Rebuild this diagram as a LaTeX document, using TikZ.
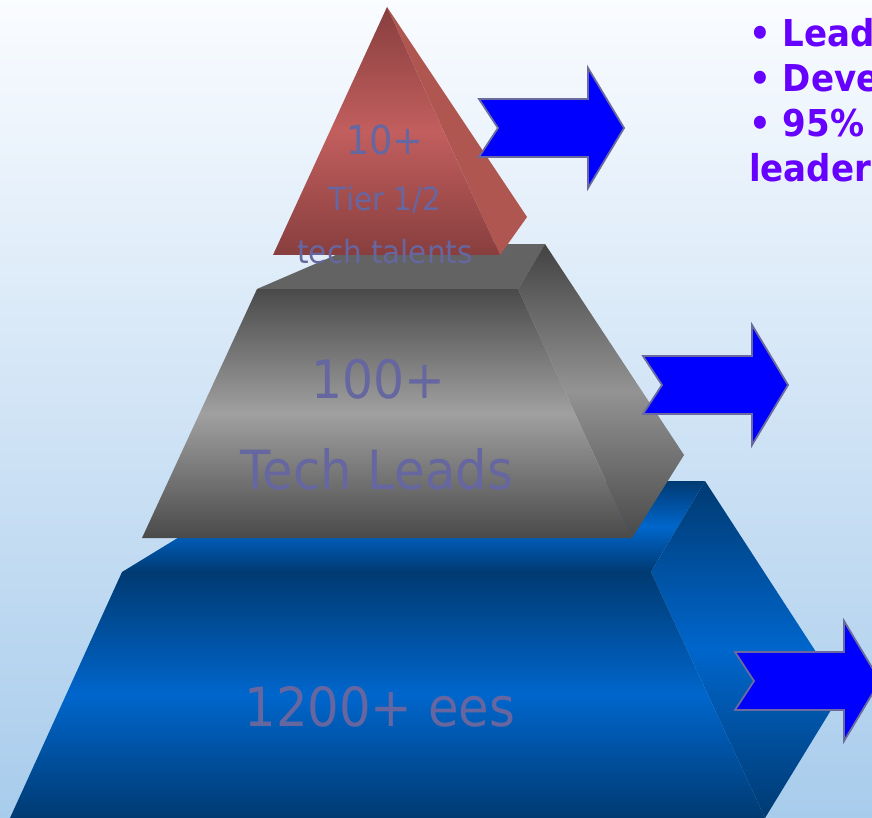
\documentclass[tikz,border=0pt]{standalone}
\usepackage{fontspec}
\setmainfont{DejaVu Sans}[FakeStretch=0.92]
\definecolor{bgtop}{RGB}{250,252,255}
\definecolor{bgbottom}{RGB}{168,204,236}
\definecolor{reddark}{RGB}{136,62,62}
\definecolor{redlight}{RGB}{194,94,94}
\definecolor{redside}{RGB}{176,86,80}
\definecolor{graydark}{RGB}{74,74,74}
\definecolor{graylight}{RGB}{160,160,160}
\definecolor{graytop}{RGB}{99,99,99}
\definecolor{bluedark}{RGB}{0,58,114}
\definecolor{bluelight}{RGB}{0,102,204}
\definecolor{tiertextcolor}{RGB}{102,102,160}
\definecolor{notecolor}{RGB}{102,0,255}
\definecolor{arrowline}{RGB}{106,106,160}
\tikzset{
  tiertext/.style={inner sep=0pt, anchor=base, text=tiertextcolor},
  notetext/.style={inner sep=0pt, anchor=base west, text=notecolor,
    font=\fontsize{37}{45}\selectfont\bfseries},
  arrowstyle/.style={fill={rgb,255:red,0;green,0;blue,255}, draw=arrowline,
    line width=1.8pt, line join=miter}
}
\newcommand{\tierarrow}[2]{%
  \draw[arrowstyle] (#1,#2-29) -- ++(109,0) -- ++(0,-31) -- ++(36,60)
    -- ++(-36,60) -- ++(0,-31) -- ++(-109,0) -- ++(19,-29) -- cycle;}
\begin{document}
\begin{tikzpicture}[x=1pt,y=-1pt]
    \useasboundingbox (0,0) rectangle (872,818);
    \shade[top color=bgtop, bottom color=bgbottom] (0,0) rectangle (872,818);
    % bottom tier
    \shade[top color=bluedark, bottom color=bluedark, middle color=bluelight]
      (122,572) -- (271,481) -- (705,481) -- (651,572) -- cycle;
    \shade[top color=bluedark, bottom color=bluedark, middle color=bluelight]
      (651,572) -- (705,481) -- (842,692) -- (765,818) -- cycle;
    \shade[top color=bluedark, bottom color=bluedark, middle color=bluelight]
      (122,572) -- (651,572) -- (765,818) -- (10,818) -- cycle;
    % middle tier
    \fill[graytop] (257,289) -- (359,245) -- (545,244) -- (518,289) -- cycle;
    \shade[top color=graydark!90!black, bottom color=graydark, middle color=graylight!92!black]
      (518,289) -- (545,244) -- (684,455) -- (632,538) -- cycle;
    \shade[top color=graydark, bottom color=graydark, middle color=graylight]
      (257,289) -- (518,289) -- (632,538) -- (142,538) -- cycle;
    % top tier
    \fill[redside] (387,7) -- (527,217) -- (500,255) -- cycle;
    \shade[top color=reddark, bottom color=reddark, middle color=redlight]
      (387,7) -- (500,255) -- (273,255) -- cycle;
    % tier labels
    \node[tiertext, font=\fontsize{40}{48}\selectfont] (topcount) at (385,155) {10+};
    \node[tiertext, font=\fontsize{32}{38}\selectfont] (toptier) at (385,211) {Tier 1/2};
    \node[tiertext, font=\fontsize{32}{38}\selectfont] (toptalent) at (385,263) {tech talents};
    \node[tiertext, font=\fontsize{53}{60}\selectfont] (midcount) at (378,398) {100+};
    \node[tiertext, font=\fontsize{54}{60}\selectfont] (midrole) at (377,489) {Tech Leads};
    \node[tiertext, font=\fontsize{54}{60}\selectfont] (basecount) at (380,726) {1200+ ees};
    % arrows
    \tierarrow{479}{128}
    \tierarrow{643}{385}
    \tierarrow{735}{681}
    % notes
    \node[notetext] (noteone) at (749,47) {• Lead};
    \node[notetext] (notetwo) at (749,92) {• Deve};
    \node[notetext] (notethree) at (749,137) {• 95\%};
    \node[notetext] (notefour) at (749,182) {leader};
\end{tikzpicture}
\end{document}
